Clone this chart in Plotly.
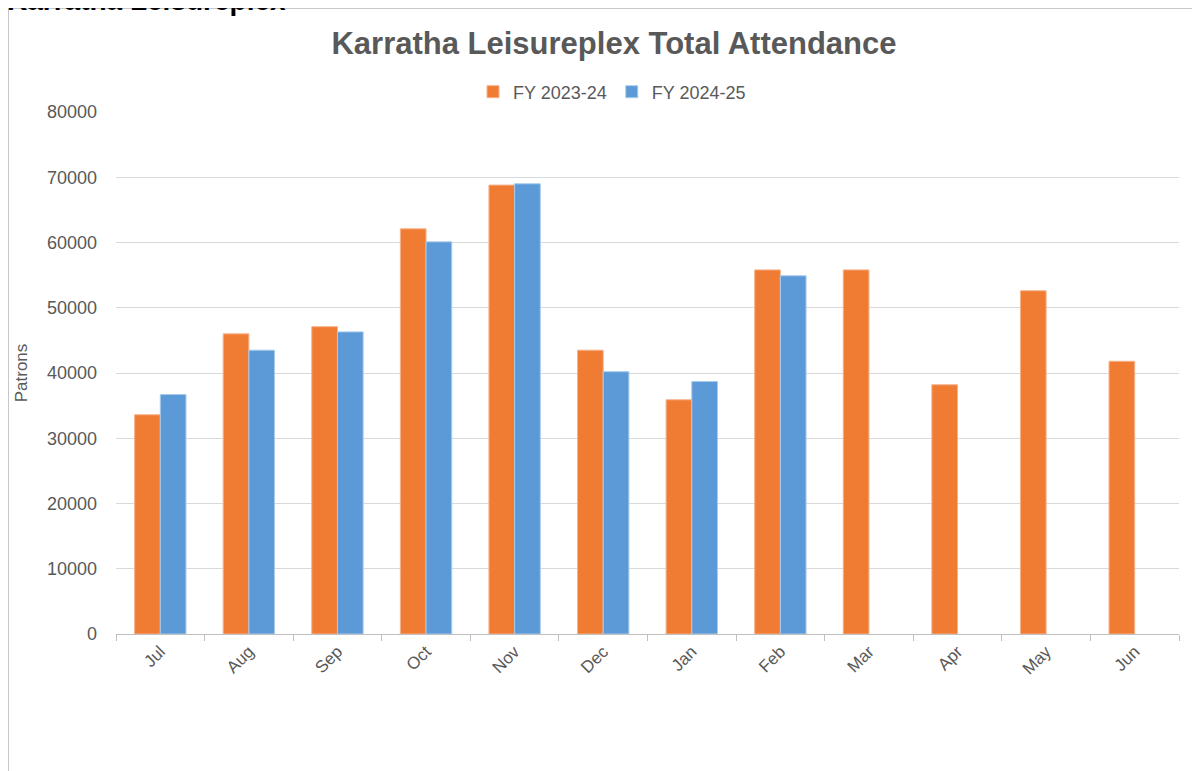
import plotly.graph_objects as go

months = ["Jul", "Aug", "Sep", "Oct", "Nov", "Dec", "Jan", "Feb", "Mar", "Apr", "May", "Jun"]
fy2324 = [33600, 46000, 47100, 62100, 68800, 43500, 35900, 55800, 55800, 38200, 52600, 41800]
fy2425 = [36700, 43500, 46300, 60100, 69000, 40200, 38700, 54900, None, None, None, None]
y_ticks = [0, 10000, 20000, 30000, 40000, 50000, 60000, 70000, 80000]

OFF = 8  # page body margin
W, H = 1200 - OFF, 771 - OFF
# plot area in page pixels: x 116..1179, y 112..634
L, R, T, B = 116 - OFF, 1200 - 1179, 112 - OFF, 771 - 634
pw, ph = W - L - R, H - T - B

def px_x(x):  # page px -> paper
    return (x - OFF - L) / pw

def px_y(y):
    return (H - B - (y - OFF)) / ph

grey = "#595959"
font = "Liberation Sans, Arial, sans-serif"

fig = go.Figure()
fig.add_trace(go.Bar(name="FY 2023-24", x=months, y=fy2324,
                     marker=dict(color="#EF7C32", line=dict(color="#F6B28C", width=1))))
fig.add_trace(go.Bar(name="FY 2024-25", x=months, y=fy2425,
                     marker=dict(color="#5B9AD6", line=dict(color="#A9CBEC", width=1))))

fig.update_layout(
    width=W, height=H,
    margin=dict(l=L, r=R, t=T, b=B, autoexpand=False),
    paper_bgcolor="white", plot_bgcolor="white",
    font=dict(family=font, color=grey),
    barmode="group", bargap=0.42, bargroupgap=0,
    title=dict(text="<b>Karratha Leisureplex Total Attendance</b>",
               font=dict(size=31, color=grey, family=font),
               x=(614 - OFF) / W, xref="container", xanchor="center",
               y=1 - (43 - OFF) / H, yref="container", yanchor="middle"),
    legend=dict(orientation="h", x=px_x(612), xanchor="center", y=px_y(92), yanchor="middle",
                font=dict(size=18, color=grey), bgcolor="rgba(0,0,0,0)",
                itemwidth=30, tracegroupgap=0),
    showlegend=True,
)

fig.update_xaxes(showline=True, linecolor="#BFBFBF", linewidth=1,
                 ticks="outside", tickson="boundaries", ticklen=6, tickcolor="#BFBFBF",
                 tickangle=-45, tickfont=dict(size=17, color=grey), showgrid=False)
fig.update_yaxes(range=[0, 80000], tickvals=y_ticks, tickformat="d",
                 gridcolor="#D9D9D9", gridwidth=1, showline=False, zeroline=False,
                 tickfont=dict(size=18, color=grey), ticklabelstandoff=18,
                 title=dict(text="Patrons", font=dict(size=17, color=grey), standoff=14))

# outer chart border
fig.add_shape(type="rect", xref="paper", yref="paper",
              x0=px_x(8.5), x1=px_x(1215), y0=px_y(800), y1=px_y(8.5),
              line=dict(color="#C8C8C8", width=1), fillcolor="rgba(0,0,0,0)", layer="below")

# cut-off section heading at top
fig.add_annotation(text="<b>Karratha Leisureplex</b>", xref="paper", yref="paper",
                   x=px_x(5), xanchor="left", y=px_y(0.5), yanchor="middle",
                   showarrow=False, font=dict(size=28, color="black", family=font))

fig.write_html("out.html")
